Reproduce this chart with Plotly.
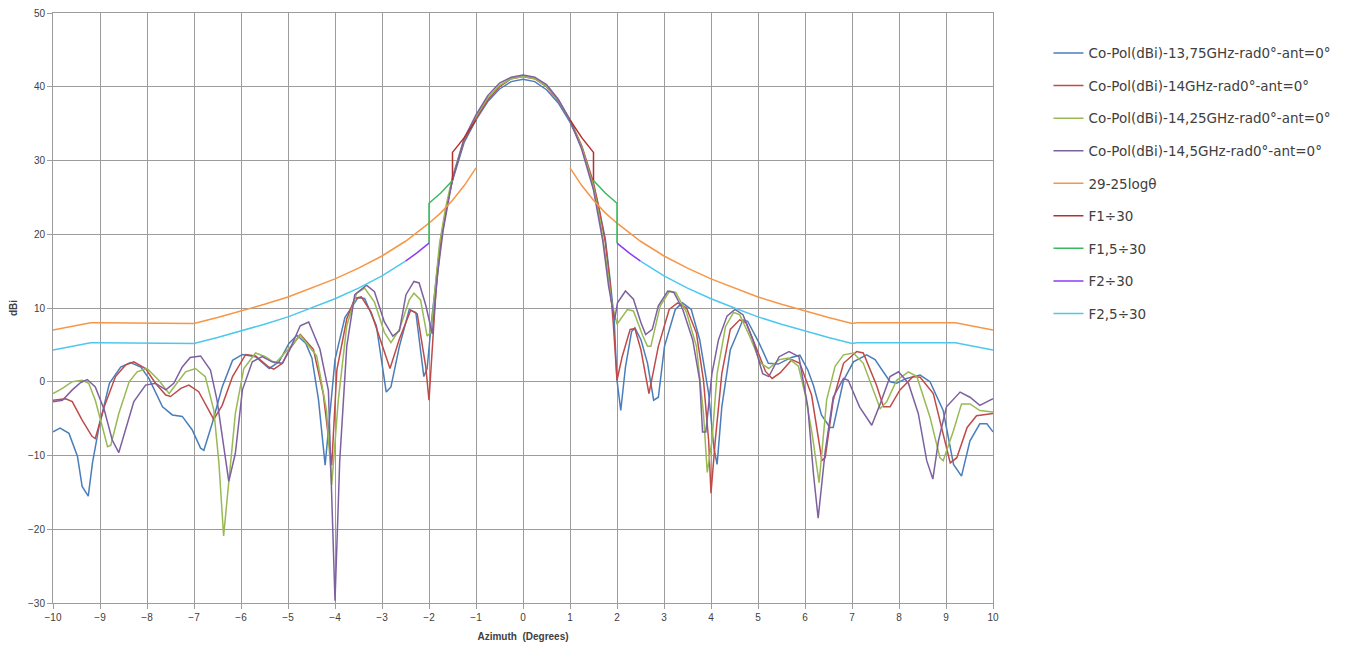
import plotly.graph_objects as go

# ---------------- data ----------------
blue_x = [-10, -9.85, -9.66, -9.48, -9.38, -9.25, -9.16, -9.02, -8.8, -8.56, -8.35, -8.13, -7.96, -7.67, -7.46, -7.25,
          -7.04, -6.86, -6.79, -6.61, -6.4, -6.18, -5.97, -5.69, -5.4, -5.19, -4.98, -4.81, -4.62, -4.49, -4.35, -4.21,
          -4.0, -3.79, -3.51, -3.37, -3.12, -2.91, -2.81, -2.63, -2.42, -2.28, -2.11, -2.04, -1.95, -1.85, -1.75, -1.6,
          -1.5, -1.25, -1.0, -0.75, -0.5, -0.25, 0, 0.25, 0.5, 0.75, 1.0, 1.25, 1.5, 1.6, 1.75, 1.85, 1.94, 2.0, 2.08,
          2.18, 2.31, 2.38, 2.51, 2.65, 2.78, 2.88, 3.01, 3.24, 3.39, 3.58, 3.76, 3.95, 4.06, 4.13, 4.23, 4.41, 4.68,
          4.78, 5.02, 5.22, 5.43, 5.71, 5.89, 6.06, 6.18, 6.35, 6.53, 6.6, 6.82, 7.03, 7.31, 7.49, 7.81, 7.95, 8.16,
          8.45, 8.66, 8.94, 9.16, 9.33, 9.51, 9.72, 9.87, 10]
blue_y = [-6.8, -6.3, -7.0, -10.1, -14.2, -15.5, -11, -6.1, -0.2, 2.0, 2.6, 2.0, 0.45, -3.4, -4.5, -4.7,
          -6.5, -9.0, -9.3, -5.6, -0.7, 2.9, 3.7, 3.4, 1.8, 2.7, 5.2, 6.3, 5.2, 3.2, -2.5, -11.3,
          3.0, 8.7, 11.4, 11.3, 7.6, -1.4, -0.7, 4.8, 9.8, 9.4, 0.7, 1.8, 8.0, 14.0, 19.5, 24.5,
          27.3, 32.5, 35.5, 38.0, 39.7, 40.7, 41.0, 40.7, 39.6, 37.8, 35.2, 31.8, 26.5, 24.0, 19.4, 14.0, 8.4, 0.2, -3.9,
          2.0, 6.8, 7.3, 5.7, 2.5, -2.5, -2.1, 4.8, 9.8, 10.7, 9.8, 5.7, -1.6, -8.9, -11.2, -3.4, 4.3, 8.4,
          8.2, 5.3, 2.5, 2.4, 3.3, 3.6, 1.6, -0.5, -4.5, -6.2, -6.2, 0.2, 2.7, 3.65, 3.0, 0.0, -0.2, 0.45,
          0.9, 0.0, -3.9, -11.2, -12.8, -8.0, -5.7, -5.7, -6.8]

red_x = [-10, -9.73, -9.59, -9.38, -9.17, -9.1, -8.91, -8.67, -8.46, -8.28, -8.03, -7.82, -7.6, -7.5, -7.28, -7.11,
         -6.9, -6.72, -6.58, -6.4, -6.18, -5.9, -5.69, -5.41, -5.3, -5.12, -4.98, -4.74, -4.46, -4.25, -4.07, -3.96,
         -3.75, -3.58, -3.44, -3.23, -3.02, -2.83, -2.63, -2.39, -2.25, -2.07, -2.0, -1.93, -1.85, -1.75, -1.6, -1.5,
         -1.25, -1.0, -0.75, -0.5, -0.25, 0, 0.25, 0.5, 0.75, 1.0, 1.25, 1.5, 1.6, 1.75, 1.85, 1.92, 2.0, 2.11, 2.28,
         2.38, 2.51, 2.68, 2.88, 3.11, 3.29, 3.48, 3.69, 3.84, 3.95, 4.0, 4.09, 4.23, 4.41, 4.61, 4.75, 4.95, 5.16,
         5.3, 5.47, 5.72, 5.89, 6.14, 6.3, 6.36, 6.43, 6.6, 6.82, 7.1, 7.24, 7.52, 7.67, 7.81, 8.02, 8.3, 8.45, 8.73,
         8.94, 9.09, 9.23, 9.45, 9.65, 10]
red_y = [-2.5, -2.3, -2.7, -5.2, -7.4, -7.7, -3.4, 0.7, 2.25, 2.7, 1.8, -0.2, -1.8, -2.0, -0.9, -0.45,
         -1.35, -3.4, -5.1, -3.2, 0.7, 3.7, 3.5, 2.0, 1.7, 2.5, 4.3, 6.4, 4.4, -1.6, -11.3, 1.6,
         8.5, 11.3, 11.5, 9.4, 5.3, 1.8, 5.8, 9.7, 9.2, 2.1, -2.5, 5.0, 12.5, 19.0, 24.5, 27.5,
         32.8, 35.7, 38.2, 40.0, 41.1, 41.4, 41.1, 40.0, 38.1, 35.5, 32.0, 27.0, 24.0, 19.0, 13.5, 8.0, 0.2, 3.4, 7.1,
         7.2, 4.3, -1.6, 4.8, 9.8, 10.7, 10.0, 6.6, 0.2, -8.0, -15.1, -8.0, 1.1, 7.1, 8.4, 8.0, 4.8, 1.4,
         0.45, 1.2, 3.0, 2.5, -1.8, -8.0, -10.7, -10.3, -2.5, 2.5, 4.1, 3.9, -0.45, -3.4, -3.4, -1.1, 0.7, 0.6, -1.6,
         -7.1, -11.0, -10.3, -6.2, -4.6, -4.3]

green_x = [-10, -9.8, -9.59, -9.38, -9.24, -9.1, -8.95, -8.84, -8.77, -8.6, -8.38, -8.21, -8.0, -7.75, -7.53, -7.36,
           -7.18, -6.97, -6.76, -6.58, -6.47, -6.37, -6.26, -6.12, -5.94, -5.69, -5.48, -5.27, -4.98, -4.74, -4.39,
           -4.18, -4.07, -3.93, -3.75, -3.54, -3.37, -3.16, -2.95, -2.81, -2.63, -2.42, -2.32, -2.18, -2.04, -1.96,
           -1.88, -1.78, -1.65, -1.5, -1.25, -1.0, -0.75, -0.5, -0.25, 0, 0.25, 0.5, 0.75, 1.0, 1.25, 1.5, 1.65, 1.78,
           1.88, 1.95, 2.0, 2.22, 2.35, 2.55, 2.65, 2.72, 2.92, 3.12, 3.25, 3.48, 3.69, 3.84, 3.92, 4.02, 4.13, 4.31,
           4.48, 4.61, 4.82, 5.06, 5.23, 5.45, 5.64, 5.86, 6.0, 6.15, 6.3, 6.46, 6.64, 6.82, 7.03, 7.24, 7.42, 7.6,
           7.74, 7.95, 8.2, 8.38, 8.66, 8.87, 8.94, 9.16, 9.33, 9.51, 9.72, 10]
green_y = [-1.6, -0.9, 0.0, 0.2, -0.2, -2.5, -6.1, -8.8, -8.6, -4.3, 0.0, 1.35, 1.8, 0.2, -1.6, -0.2,
           1.35, 1.8, 0.7, -3.8, -11.0, -20.9, -13.3, -4.3, 1.8, 3.9, 3.4, 2.5, 4.5, 6.3, 3.5,
           -3.9, -14.0, -2.5, 7.6, 12.0, 12.7, 10.8, 6.7, 5.3, 7.1, 11.1, 12.0, 11.1, 6.2, 6.7,
           12.0, 18.5, 23.5, 27.8, 33.0, 36.0, 38.5, 40.2, 41.1, 41.4, 41.1, 40.1, 38.2, 35.5, 31.8, 26.5, 21.5, 16.0,
           11.0, 8.9, 7.8, 9.8, 9.6, 6.2, 4.8, 4.8, 10.3, 12.3, 12.1, 9.4, 4.8, -4.3, -12.3, -8.0, 1.1, 7.5,
           9.4, 9.1, 6.2, 2.5, 1.8, 3.0, 3.2, 2.1, -1.6, -7.0, -13.7, -2.5, 2.1, 3.65, 3.9, 2.5, -0.7, -3.65,
           -2.7, 0.2, 1.35, 0.7, -4.8, -10.3, -10.7, -6.6, -3.0, -3.0, -3.9, -4.1]

purple_x = [-10, -9.8, -9.59, -9.41, -9.27, -9.1, -8.91, -8.74, -8.6, -8.46, -8.28, -8.03, -7.82, -7.6, -7.43, -7.25,
            -7.08, -6.86, -6.65, -6.51, -6.37, -6.26, -6.12, -5.97, -5.76, -5.55, -5.34, -5.12, -4.98, -4.74, -4.56,
            -4.32, -4.14, -4.0, -3.9, -3.75, -3.58, -3.33, -3.16, -2.95, -2.77, -2.63, -2.49, -2.32, -2.21, -2.07,
            -1.93, -1.82, -1.7, -1.5, -1.25, -1.0, -0.75, -0.5, -0.25, 0, 0.25, 0.5, 0.75, 1.0, 1.25, 1.5, 1.7, 1.82,
            1.95, 2.01, 2.18, 2.35, 2.51, 2.61, 2.75, 2.88, 3.08, 3.21, 3.4, 3.61, 3.76, 3.82, 3.89, 4.02, 4.16, 4.34,
            4.51, 4.68, 4.89, 5.1, 5.23, 5.45, 5.66, 5.87, 6.06, 6.18, 6.28, 6.43, 6.6, 6.82, 6.92, 7.16, 7.42, 7.6,
            7.81, 7.99, 8.2, 8.41, 8.59, 8.72, 8.84, 9.01, 9.3, 9.51, 9.72, 10]
purple_y = [-2.7, -2.5, -1.1, -0.1, 0.3, -0.7, -3.8, -7.9, -9.6, -6.5, -2.7, -0.45, -0.2, -1.1, -0.2, 2.0,
            3.3, 3.5, 1.6, -2.5, -8.8, -13.5, -9.7, -1.1, 2.7, 3.4, 2.7, 2.5, 4.1, 7.6, 8.1,
            4.4, -1.2, -29.7, -10.8, 4.8, 11.8, 13.1, 12.2, 8.1, 6.2, 6.9, 11.8, 13.6, 13.4, 10.4,
            6.5, 14.5, 20.5, 27.5, 33.0, 36.2, 38.8, 40.5, 41.3, 41.6, 41.3, 40.3, 38.3, 35.5, 31.5, 26.0, 19.0, 13.0,
            8.4, 10.7, 12.3, 11.2, 8.0, 6.4, 7.1, 10.3, 12.3, 12.1, 9.8, 5.7, 0.2, -6.8, -6.8, 1.1, 5.7, 8.9,
            9.8, 9.1, 5.7, 1.1, 0.7, 3.4, 4.1, 3.4, -3.4, -12.5, -18.5, -9.4, -2.1, 0.45, 0.2, -3.4, -5.9, -3.0,
            0.7, 1.35, -0.2, -4.3, -10.7, -13.2, -8.0, -3.4, -1.4, -2.1, -3.2, -2.3]

mask_x = [-10, -9.2, -9, -8, -7.1, -7, -6.5, -6, -5.5, -5, -4.5, -4, -3.5, -3, -2.5, -2, -1.75, -1.5, -1.25, -1,
          None, 1, 1.25, 1.5, 1.75, 2, 2.5, 3, 3.5, 4, 4.5, 5, 5.5, 6, 6.5, 7, 7.1, 8, 9, 9.2, 10]
mask_y = [7.0, 8.0, 8.0, 8.0, 8.0, 7.9, 8.7, 9.55, 10.5, 11.5, 12.7, 13.95, 15.4, 17.05, 19.05, 21.5, 22.9, 24.6, 26.6, 29.0,
          None, 29.0, 26.6, 24.6, 22.9, 21.5, 19.05, 17.05, 15.4, 13.95, 12.7, 11.5, 10.5, 9.55, 8.7, 7.9, 8.0, 8.0, 8.0, 8.0, 7.0]

f1_x = [-1.5, -1.5, -1.25, -1.0, None, 1.0, 1.25, 1.5, 1.5]
f1_y = [27.3, 31.1, 33.1, 35.5, None, 35.5, 33.1, 31.1, 27.3]

f15_x = [-2.0, -2.0, -1.75, -1.5, None, 1.5, 1.75, 2.0, 2.0]
f15_y = [18.8, 24.2, 25.6, 27.3, None, 27.3, 25.6, 24.2, 18.8]

f2_x = [-2.5, -2.25, -2.0, None, 2.0, 2.25, 2.5]
f2_y = [16.35, 17.5, 18.8, None, 18.8, 17.5, 16.35]

f25_x = [-10, -9.2, -9, -8, -7.1, -7, -6.5, -6, -5.5, -5, -4.5, -4, -3.5, -3, -2.5,
         None, 2.5, 3, 3.5, 4, 4.5, 5, 5.5, 6, 6.5, 7, 7.1, 8, 9, 9.2, 10]
f25_y = [4.3, 5.3, 5.3, 5.3, 5.3, 5.2, 6.0, 6.85, 7.8, 8.8, 10.0, 11.25, 12.7, 14.35, 16.35,
         None, 16.35, 14.35, 12.7, 11.25, 10.0, 8.8, 7.8, 6.85, 6.0, 5.2, 5.3, 5.3, 5.3, 5.3, 4.3]

series = [
    ("Co-Pol(dBi)-13,75GHz-rad0°-ant=0°", blue_x, blue_y, "#4A7EBB"),
    ("Co-Pol(dBi)-14GHz-rad0°-ant=0°", red_x, red_y, "#BE4B48"),
    ("Co-Pol(dBi)-14,25GHz-rad0°-ant=0°", green_x, green_y, "#98B954"),
    ("Co-Pol(dBi)-14,5GHz-rad0°-ant=0°", purple_x, purple_y, "#7D60A0"),
    ("29-25logθ", mask_x, mask_y, "#F79646"),
    ("F1÷30", f1_x, f1_y, "#B3302E"),
    ("F1,5÷30", f15_x, f15_y, "#3CB85F"),
    ("F2÷30", f2_x, f2_y, "#8A3CF5"),
    ("F2,5÷30", f25_x, f25_y, "#4CC8EE"),
]

fig = go.Figure()
for i, (name, xs, ys, col) in enumerate(series):
    fig.add_trace(go.Scatter(x=xs, y=ys, mode="lines", name=name, legendgroup=f"g{i}",
                             line=dict(color=col, width=1.5), connectgaps=False))

grid = "#9C9C9C"
# the page body has an 8px default margin, so the figure is sized / offset to compensate
fig.update_layout(
    width=1349, height=641,
    margin=dict(l=45, r=364, t=5, b=46),
    plot_bgcolor="white", paper_bgcolor="white",
    font=dict(family="Liberation Sans, Arial, sans-serif", color="#404040", size=10),
    showlegend=True,
    legend=dict(x=1.059, y=0.958, xanchor="left", yanchor="top", traceorder="grouped",
                tracegroupgap=12, font=dict(family="DejaVu Sans, sans-serif", size=13.5, color="#404040"),
                bgcolor="rgba(0,0,0,0)"),
    xaxis=dict(range=[-10, 10], dtick=1, tick0=-10, showgrid=True, gridcolor=grid, gridwidth=1,
               showline=True, linecolor=grid, linewidth=1, ticks="outside", ticklen=5, tickcolor=grid,
               zeroline=False, automargin=False, ticklabeloverflow="allow",
               tickfont=dict(size=10, color="#404040"),
               title=dict(text="<b>Azimuth  (Degrees)</b>", font=dict(size=10, color="#404040"), standoff=10)),
    yaxis=dict(range=[-30, 50], dtick=10, showgrid=True, gridcolor=grid, gridwidth=1,
               showline=True, linecolor=grid, linewidth=1, ticks="outside", ticklen=5, tickcolor=grid,
               zeroline=False, automargin=False, ticklabeloverflow="allow",
               tickfont=dict(size=10, color="#404040"),
               title=dict(text="<b>dBi</b>", font=dict(size=10, color="#404040"), standoff=16)),
)
fig.update_xaxes(mirror=True)
fig.update_yaxes(mirror=True)

fig.write_html("out.html")
